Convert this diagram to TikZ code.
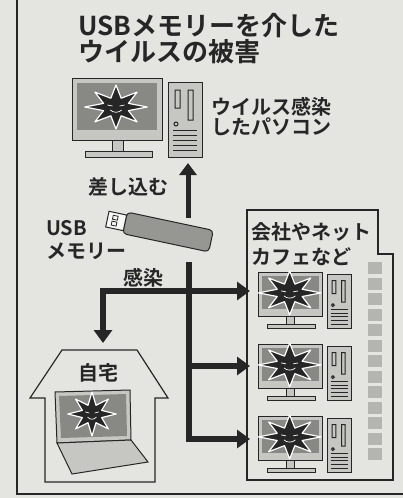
\documentclass[tikz,border=0pt]{standalone}
\usepackage{fontspec}
\setmainfont{Noto Sans CJK JP}[UprightFont=* Bold]
\usetikzlibrary{arrows.meta}
\definecolor{paper}{RGB}{228,228,224}
\definecolor{ink}{RGB}{38,38,38}
\definecolor{bezel}{RGB}{198,198,194}
\definecolor{screengray}{RGB}{136,136,132}
\definecolor{usbgray}{RGB}{150,150,146}
\definecolor{window}{RGB}{180,180,176}

\tikzset{
  part/.style={draw=ink,fill=bezel,line width=1pt},
  virus/.pic={
    \filldraw[fill=ink,draw=white,line width=1.2pt,line join=round] (0:22)
      \foreach \ang/\rad in {22.5/9.5,45/21,67.5/9.5,90/22,112.5/9.5,135/21,157.5/9.5,180/22,
        202.5/9.5,225/21,247.5/9.5,270/22,292.5/9.5,315/21,337.5/9.5} {-- (\ang:\rad)} -- cycle;
    \draw[white,line width=.7pt] (-6,-2) -- (-2.5,-1) (2.5,-1) -- (6,-2)
      (-4,3) .. controls (-2,6) and (2,6) .. (4,3);
  },
  pc/.pic={
    \draw[part] (0,0) rectangle (90,62);
    \fill[screengray] (5,5) rectangle (85,52);
    \draw[part] (40,62) rectangle (51,73);
    \draw[part] (13,73) rectangle (80,79);
    \pic[xscale=1.42] at (44,29) {virus};
    \draw[part] (96,4) rectangle (130,79);
    \draw[part] (103,12) rectangle (108,30) (116,12) rectangle (121,42) (104,46) circle (2);
    \foreach \ly in {52,57,...,72} \draw[ink,line width=.6pt] (101,\ly) -- (125,\ly);
  }
}

\begin{document}
\begin{tikzpicture}[x=1pt,y=-1pt,
    lbl/.style={anchor=north west,inner sep=0pt,align=left,text=ink},
    body/.style={lbl,font=\fontsize{20}{#1}\selectfont},
    flow/.style={ink,line width=6pt,>={Triangle[width=18pt,length=13pt]},->},
    plug/.style={ink,line width=5pt,-{Triangle[width=17pt,length=12pt]}}]
\useasboundingbox (0,0) rectangle (403,498);
\fill[paper] (0,0) rectangle (403,498);
\draw[ink,line width=1.2pt] (17,0) -- (17,494) -- (403,494);

\node[lbl,font=\fontsize{26}{26.5}\selectfont] (title) at (78,13) {USBメモリーを介した\\ウイルスの被害};

\pic at (72,78) {pc};
\node[body=20.5] (infected) at (211,97) {ウイルス感染\\したパソコン};

\begin{scope}[shift={(168,232)},rotate=-12]
  \draw[part,fill=usbgray,rounded corners=4pt] (-44,-11) rectangle (44,11);
  \draw[part,fill=white!70!paper] (-62,-8) rectangle (-44,8);
  \draw[ink,line width=.8pt] (-57,-5) rectangle (-52,-1) (-57,1) rectangle (-52,5);
\end{scope}
\node[body=23] (usb) at (46,220) {USB\\メモリー};
\node[body=20] (insert) at (88,177) {差し込む};

\coordinate (usbtop) at (188,218);
\coordinate (pcfoot) at (188,163);
\draw[plug] (usbtop) -- (pcfoot);

\draw[part,fill=none,line width=1.2pt] (247,210) -- (378,210) -- (378,254) -- (393,254) -- (393,480) -- (247,480) -- cycle;
\node[body=25] (office) at (251,222) {会社やネット\\カフェなど};
\foreach \wy in {262,277.5,...,450} \fill[window] (368,\wy) rectangle +(14,12);
\foreach \py in {272,344,416} \pic[scale=.72] at (258,\py) {pc};

\draw[part,fill=none,line width=1.2pt] (62,350) -- (137,350) -- (168,398) -- (155,398) -- (155,482) -- (45,482) -- (45,398) -- (30,398) -- cycle;
\node[body=20] (home) at (78,363) {自宅};
\draw[part] (55,392) -- (130,390) -- (131,440) -- (57,443) -- cycle;
\fill[screengray] (59,396) -- (126,394) -- (127,436) -- (61,438) -- cycle;
\pic[xscale=1.1] at (92,414) {virus};
\draw[part] (57,443) -- (131,440) -- (148,462) -- (72,474) -- cycle;

\node[body=20] (infection) at (123,268) {感染};
\coordinate (hub) at (189,262);
\coordinate (homein) at (103,343);
\coordinate (shop1) at (250,291);
\coordinate (shop2) at (250,366);
\coordinate (shop3) at (250,439);
\draw[flow,<->] (homein) |- (shop1);
\draw[flow] (hub) |- (shop3);
\draw[flow] (hub |- shop2) -- (shop2);
\end{tikzpicture}
\end{document}
